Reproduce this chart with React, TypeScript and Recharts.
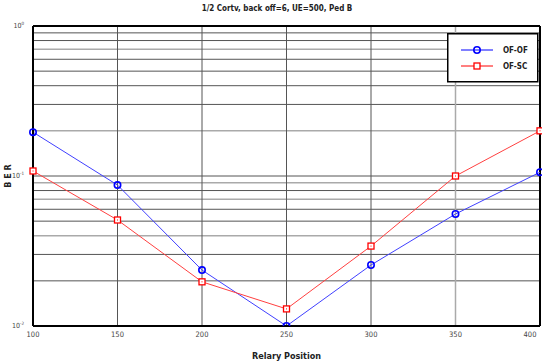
import React from "react";
import {
  LineChart,
  Line,
  XAxis,
  YAxis,
  ReferenceLine,
} from "recharts";

const relayPositions = [100, 150, 200, 250, 300, 350, 400];
const berOfOf = [0.196, 0.087, 0.0236, 0.01, 0.0255, 0.0558, 0.106];
const berOfSc = [0.108, 0.0509, 0.0197, 0.013, 0.0341, 0.1, 0.2];

const xTicks = [100, 150, 200, 250, 300, 350, 400];
const yTicks = [0.01, 0.1, 1];
const yTickExp = ["-2", "-1", "0"];
const yGridDark = [0.9, 0.8, 0.6, 0.5, 0.4, 0.3, 0.1, 0.08, 0.06, 0.05, 0.03, 0.02];
const yGridLight = [0.7, 0.2, 0.09, 0.07, 0.04];
const xGridDark = [150, 200, 250, 300];
const xGridLight = [350];

const data = relayPositions.map((p, i) => ({
  pos: p,
  ofof: berOfOf[i],
  ofsc: berOfSc[i],
}));

const FONT = "'Liberation Sans Narrow', 'DejaVu Sans Condensed', 'Arial Narrow', sans-serif";

const CircleDot = (props: any) => {
  const { cx, cy } = props;
  if (cx == null || cy == null) return null;
  return <circle cx={cx} cy={cy} r={3.2} fill="none" stroke="#0000ff" strokeWidth={1.6} />;
};

const SquareDot = (props: any) => {
  const { cx, cy } = props;
  if (cx == null || cy == null) return null;
  return (
    <g>
      <rect x={cx - 3} y={cy - 3} width={6} height={6} fill="#fff" stroke="#ff0000" strokeWidth={1.3} />
      <rect x={cx - 0.5} y={cy - 0.5} width={1} height={1} fill="#ff0000" />
    </g>
  );
};

const XTick = (props: any) => {
  const { x, y, payload } = props;
  return (
    <text x={x} y={y + 3} textAnchor="middle" fontSize={7.5} fill="#444" fontFamily={FONT}>
      {payload.value}
    </text>
  );
};

const YTick = (props: any) => {
  const { x, y, payload } = props;
  const idx = yTicks.indexOf(payload.value);
  return (
    <text x={x - 1} y={y + 2} textAnchor="end" fontSize={7} fill="#444" fontFamily={FONT}>
      10
      <tspan fontSize={4.5} dy={-3}>
        {yTickExp[idx]}
      </tspan>
    </text>
  );
};

const LegendBox = () => (
  <svg width={92} height={50} style={{ position: "absolute", left: 447, top: 33 }}>
    <rect x={0.75} y={0.75} width={90} height={48} fill="#fff" stroke="#000" strokeWidth={1.5} />
    <line x1={14} x2={46} y1={17} y2={17} stroke="#0000ff" strokeWidth={1} />
    <circle cx={30} cy={17} r={3.2} fill="none" stroke="#0000ff" strokeWidth={1.6} />
    <text x={56} y={20} fontSize={8} fontWeight="bold" fill="#222" fontFamily={FONT}>
      OF-OF
    </text>
    <line x1={14} x2={46} y1={33} y2={33} stroke="#ff0000" strokeWidth={1} />
    <rect x={27} y={30} width={6} height={6} fill="#fff" stroke="#ff0000" strokeWidth={1.3} />
    <text x={56} y={36} fontSize={8} fontWeight="bold" fill="#222" fontFamily={FONT}>
      OF-SC
    </text>
  </svg>
);

export default function App() {
  return (
    <div style={{ position: "absolute", left: 0, top: 0, width: 542, height: 364, background: "#fff", overflow: "hidden" }}>
      <div
        style={{
          position: "absolute",
          left: 0,
          top: 4,
          width: 554,
          textAlign: "center",
          fontFamily: FONT,
          fontSize: 8,
          fontWeight: "bold",
          color: "#222",
          zIndex: 2,
        }}
      >
        1/2 Cortv, back off=6, UE=500, Ped B
      </div>
      <LineChart
        width={542}
        height={364}
        data={data}
        margin={{ top: 26, right: 2, bottom: 0, left: 0 }}
      >
        <XAxis
          dataKey="pos"
          type="number"
          domain={[100, 400]}
          ticks={xTicks}
          height={38}
          tickLine={false}
          axisLine={{ stroke: "#000", strokeWidth: 2 }}
          tick={<XTick />}
          label={{
            value: "Relary Position",
            position: "insideBottom",
            offset: 5,
            style: { fontFamily: FONT, fontSize: 9, fontWeight: "bold", fill: "#222" },
          }}
        />
        <YAxis
          scale="log"
          domain={[0.01, 1]}
          ticks={yTicks}
          allowDataOverflow
          width={33}
          tickLine={false}
          axisLine={{ stroke: "#000", strokeWidth: 2 }}
          tick={<YTick />}
          label={{
            value: "B E R",
            angle: -90,
            position: "insideLeft",
            offset: 8,
            style: { fontFamily: FONT, fontSize: 9, fontWeight: "bold", fill: "#222", textAnchor: "middle" },
          }}
        />
        {yGridDark.map((v) => (
          <ReferenceLine key={"yd" + v} y={v} stroke="#555" strokeWidth={1} />
        ))}
        {yGridLight.map((v) => (
          <ReferenceLine key={"yl" + v} y={v} stroke="#aaa" strokeWidth={1.5} />
        ))}
        {xGridDark.map((v) => (
          <ReferenceLine key={"xd" + v} x={v} stroke="#555" strokeWidth={1} />
        ))}
        {xGridLight.map((v) => (
          <ReferenceLine key={"xl" + v} x={v} stroke="#aaa" strokeWidth={1.5} />
        ))}
        <ReferenceLine y={1} stroke="#000" strokeWidth={2} />
        <ReferenceLine x={400} stroke="#000" strokeWidth={2} />
        <Line
          dataKey="ofof"
          name="OF-OF"
          stroke="#4040ff"
          strokeWidth={1}
          dot={<CircleDot />}
          isAnimationActive={false}
        />
        <Line
          dataKey="ofsc"
          name="OF-SC"
          stroke="#ff4040"
          strokeWidth={1}
          dot={<SquareDot />}
          isAnimationActive={false}
        />
      </LineChart>
      <LegendBox />
    </div>
  );
}
